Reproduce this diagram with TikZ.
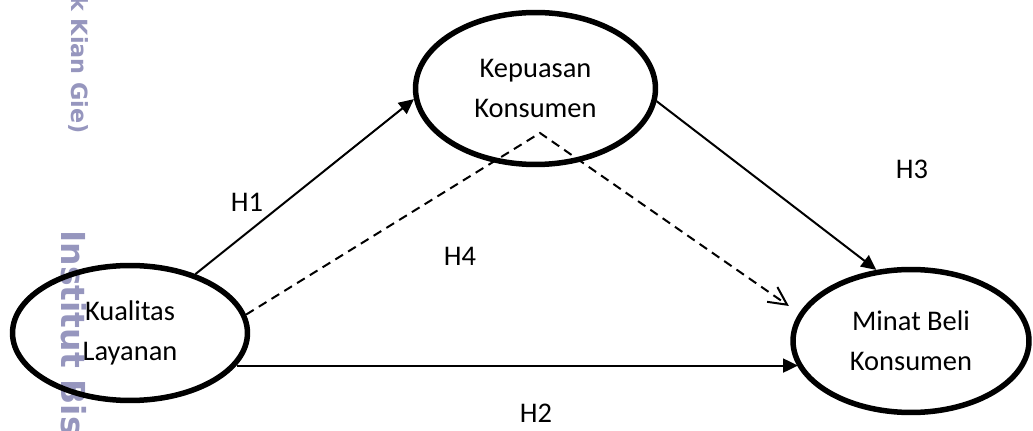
\documentclass[tikz,border=0pt]{standalone}
\usepackage{fontspec}
\setmainfont{Carlito}
\newfontfamily\wmfont{DejaVu Sans}
\usepackage{tikz}
\usetikzlibrary{arrows.meta,shapes.geometric,positioning}
\definecolor{wmgray}{RGB}{150,150,190}

\begin{document}
\begin{tikzpicture}[
    x=0.02cm, y=-0.02cm,
    font=\fontsize{16.2pt}{23pt}\selectfont,
    construct/.style={
        ellipse,
        draw=black,
        line width=0.11cm,
        inner sep=0pt,
        align=center
    },
    hyp/.style={
        inner sep=0pt
    },
    wmark/.style={
        text=wmgray,
        rotate=-90,
        inner sep=0pt
    },
    arr/.style={-{Triangle[length=0.3cm,width=0.28cm]}, line width=0.04cm},
    darr/.style={-{Straight Barb[length=0.36cm,width=0.36cm]}, line width=0.04cm,
        dash pattern=on 0.18cm off 0.12cm}
]
\useasboundingbox (0,0) rectangle (1033,431);

\node[wmark, font=\wmfont\bfseries\fontsize{12.7pt}{12.7pt}\selectfont, anchor=base west]
    (wmtop) at (71,-4) {k Kian Gie)};
\node[wmark, font=\wmfont\bfseries\fontsize{18.8pt}{18.8pt}\selectfont, anchor=base west]
    (wmlow) at (61,230) {Institut Bis};

\node[construct, minimum width=4.7cm, minimum height=2.7cm] (kual) at (130,333)
    {Kualitas\\Layanan};
\node[construct, minimum width=4.8cm, minimum height=3.04cm] (kep) at (535.5,88.5)
    {Kepuasan\\Konsumen};
\node[construct, minimum width=4.72cm, minimum height=2.86cm] (minat) at (911,341)
    {Minat Beli\\Konsumen};

\coordinate (apex) at (540,133);

\draw[arr] (kual.42) -- (kep.185);
\draw[arr] (kual.-17) -- (kual.-17 -| minat.193);
\draw[arr] (kep.-6) -- (minat.116);
\draw[darr, shorten >=0.25cm] (kual.9) -- (apex) -- (minat.166);

\node[hyp] (h1) at (247,202) {H1};
\node[hyp] (h2) at (536,413) {H2};
\node[hyp] (h3) at (912,169) {H3};
\node[hyp] (h4) at (460,256) {H4};

\end{tikzpicture}
\end{document}
